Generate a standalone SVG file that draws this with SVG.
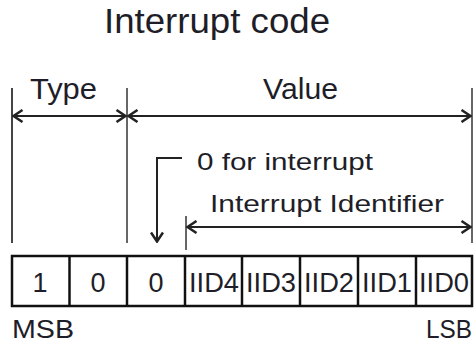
<svg xmlns="http://www.w3.org/2000/svg" width="474" height="344" viewBox="0 0 474 344">
  <style>
    text { font-family: "Liberation Sans", Arial, sans-serif; fill: #1e1e28; }
    .title { font-size: 35px; }
    .lbl { font-size: 29px; }
    .sm { font-size: 24px; }
    .cell { font-size: 27px; text-anchor: middle; }
    .edge { font-size: 25px; }
    .guide { stroke: #444; stroke-width: 2; fill: none; }
    .guide2 { stroke: #666; stroke-width: 2; fill: none; }
    .arr { stroke: #222; stroke-width: 2; fill: none; }
    .box { fill: #fff; stroke: #111; stroke-width: 2.5; }
  </style>
  <defs>
    <marker id="ah" viewBox="0 0 12 14" refX="11" refY="7" markerWidth="12" markerHeight="14" markerUnits="userSpaceOnUse" orient="auto-start-reverse">
      <path d="M1.5,1 L10.5,7 L1.5,13" fill="none" stroke="#222" stroke-width="2.5"/>
    </marker>
  </defs>

  <g id="title">
    <text class="title" x="104" y="33" textLength="226" lengthAdjust="spacingAndGlyphs">Interrupt code</text>
  </g>

  <g id="connectors">
    <line class="guide" x1="12" y1="88" x2="12" y2="243"/>
    <line class="guide2" x1="127" y1="88" x2="127" y2="243"/>
    <line class="guide2" x1="472" y1="88" x2="472" y2="243"/>
    <line class="guide2" x1="186" y1="216" x2="186" y2="250"/>
    <line class="arr" x1="13" y1="116" x2="126" y2="116" marker-start="url(#ah)" marker-end="url(#ah)"/>
    <line class="arr" x1="128" y1="116" x2="471" y2="116" marker-start="url(#ah)" marker-end="url(#ah)"/>
    <line class="arr" x1="187" y1="227" x2="471" y2="227" marker-start="url(#ah)" marker-end="url(#ah)"/>
    <path class="arr" d="M182,158 H157 V242" marker-end="url(#ah)"/>
  </g>

  <g id="type-label">
    <text class="lbl" x="30" y="99" textLength="67" lengthAdjust="spacingAndGlyphs">Type</text>
  </g>
  <g id="value-label">
    <text class="lbl" x="263" y="99" textLength="75" lengthAdjust="spacingAndGlyphs">Value</text>
  </g>
  <g id="zero-label">
    <text class="sm" x="197" y="170" textLength="176" lengthAdjust="spacingAndGlyphs">0 for interrupt</text>
  </g>
  <g id="iid-label">
    <text class="sm" x="210" y="212" textLength="234" lengthAdjust="spacingAndGlyphs">Interrupt Identifier</text>
  </g>

  <g id="register">
    <rect class="box" x="12" y="256" width="460" height="50"/>
    <line class="box" x1="69.5" y1="256" x2="69.5" y2="306"/>
    <line class="box" x1="127" y1="256" x2="127" y2="306"/>
    <line class="box" x1="185" y1="256" x2="185" y2="306"/>
    <line class="box" x1="242" y1="256" x2="242" y2="306"/>
    <line class="box" x1="300" y1="256" x2="300" y2="306"/>
    <line class="box" x1="358" y1="256" x2="358" y2="306"/>
    <line class="box" x1="416" y1="256" x2="416" y2="306"/>
    <text class="cell" x="40" y="292">1</text>
    <text class="cell" x="98" y="292">0</text>
    <text class="cell" x="156" y="292">0</text>
    <text class="cell" x="214" y="292" textLength="50" lengthAdjust="spacingAndGlyphs">IID4</text>
    <text class="cell" x="271" y="292" textLength="50" lengthAdjust="spacingAndGlyphs">IID3</text>
    <text class="cell" x="329" y="292" textLength="50" lengthAdjust="spacingAndGlyphs">IID2</text>
    <text class="cell" x="387" y="292" textLength="50" lengthAdjust="spacingAndGlyphs">IID1</text>
    <text class="cell" x="444" y="292" textLength="50" lengthAdjust="spacingAndGlyphs">IID0</text>
  </g>

  <g id="msb">
    <text class="edge" x="12" y="338" textLength="62" lengthAdjust="spacingAndGlyphs">MSB</text>
  </g>
  <g id="lsb">
    <text class="edge" x="472" y="338" text-anchor="end" textLength="46" lengthAdjust="spacingAndGlyphs">LSB</text>
  </g>
</svg>
